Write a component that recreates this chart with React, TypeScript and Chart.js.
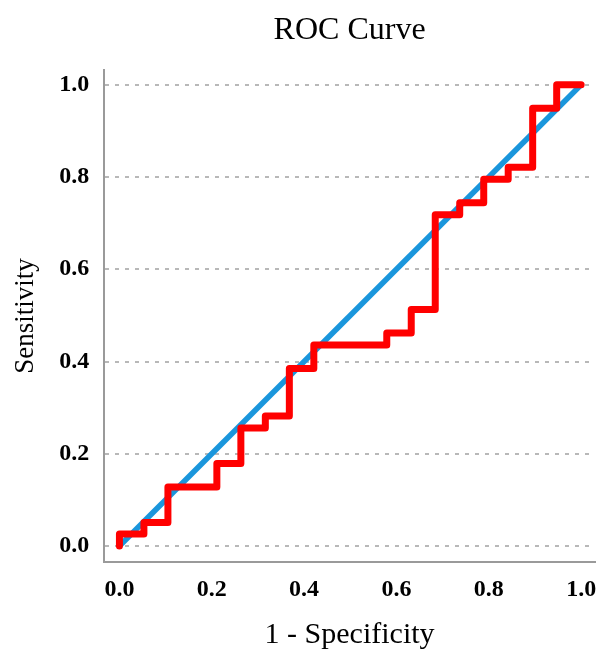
import React, { useEffect, useRef } from "react";
import { Chart, registerables } from "chart.js";

Chart.register(...registerables);

// ROC curve vertices (1 - specificity, sensitivity); stepped: vertical first, then horizontal
const rocFpr = [0, 0.053, 0.105, 0.211, 0.263, 0.316, 0.368, 0.421, 0.579, 0.632, 0.684, 0.737, 0.789, 0.842, 0.895, 0.947, 1.0];
const rocTpr = [0, 0.026, 0.051, 0.128, 0.179, 0.256, 0.282, 0.385, 0.436, 0.462, 0.513, 0.718, 0.744, 0.795, 0.821, 0.949, 1.0];
// Reference diagonal
const refX = [0, 1];
const refY = [0, 1];
const tickValues = [0, 0.2, 0.4, 0.6, 0.8, 1.0];

const FONT = "'Liberation Serif', 'Times New Roman', serif";

const zeroPad = (axis: any) => {
  axis.paddingLeft = 0;
  axis.paddingRight = 0;
  axis.paddingTop = 0;
  axis.paddingBottom = 0;
};

export default function App() {
  const ref = useRef<HTMLCanvasElement | null>(null);
  useEffect(() => {
    if (!ref.current) return;
    const chart = new Chart(ref.current, {
      type: "line",
      data: {
        datasets: [
          {
            label: "ROC",
            data: rocFpr.map((x, i) => ({ x, y: rocTpr[i] })),
            borderColor: "#FF0000",
            borderWidth: 7,
            stepped: "after",
            pointRadius: 0,
            borderJoinStyle: "round",
            borderCapStyle: "round",
            fill: false,
            order: 0,
          },
          {
            label: "Reference",
            data: refX.map((x, i) => ({ x, y: refY[i] })),
            borderColor: "#1A96DC",
            borderWidth: 5.5,
            pointRadius: 0,
            fill: false,
            order: 1,
          },
        ],
      },
      options: {
        responsive: false,
        animation: false,
        devicePixelRatio: 1,
        layout: { padding: { left: 9, right: 2, top: 0, bottom: 0 } },
        plugins: {
          legend: { display: false },
          tooltip: { enabled: false },
          title: {
            display: true,
            fullSize: false,
            text: "ROC Curve",
            color: "#000",
            font: { family: FONT, size: 32, weight: "normal" },
            padding: { top: 11, bottom: 20.6 },
          },
        },
        scales: {
          x: {
            type: "linear",
            min: -0.033,
            max: 1.03,
            afterBuildTicks: (axis: any) => {
              axis.ticks = tickValues.map((v) => ({ value: v }));
            },
            afterFit: zeroPad,
            ticks: {
              color: "#000",
              font: { family: FONT, size: 24, weight: "bold" },
              padding: 13,
              maxRotation: 0,
              callback: (v: any) => Number(v).toFixed(1),
            },
            grid: { display: false, drawTicks: false },
            border: { display: true, color: "#9a9a9a", width: 2 },
            title: {
              display: true,
              text: "1 - Specificity",
              color: "#000",
              font: { family: FONT, size: 30, weight: "normal" },
              padding: { top: 0, bottom: 0 },
            },
          },
          y: {
            type: "linear",
            min: -0.035,
            max: 1.032,
            afterBuildTicks: (axis: any) => {
              axis.ticks = tickValues.map((v) => ({ value: v }));
            },
            afterFit: zeroPad,
            ticks: {
              color: "#000",
              font: { family: FONT, size: 24, weight: "bold" },
              padding: 15,
              callback: (v: any) => Number(v).toFixed(1),
            },
            grid: {
              display: true,
              drawTicks: false,
              color: "#b8b8b8",
              lineWidth: 2,
            },
            border: { display: true, color: "#9a9a9a", width: 2, dash: [4, 6] },
            title: {
              display: true,
              text: "Sensitivity",
              color: "#000",
              font: { family: FONT, size: 27, weight: "normal" },
              padding: { top: 0.8, bottom: 2 },
            },
          },
        },
      },
    });
    return () => chart.destroy();
  }, []);
  return (
    <div style={{ position: "absolute", left: 0, top: 0, width: 597, height: 653 }}>
      <canvas ref={ref} width={597} height={653} />
    </div>
  );
}
